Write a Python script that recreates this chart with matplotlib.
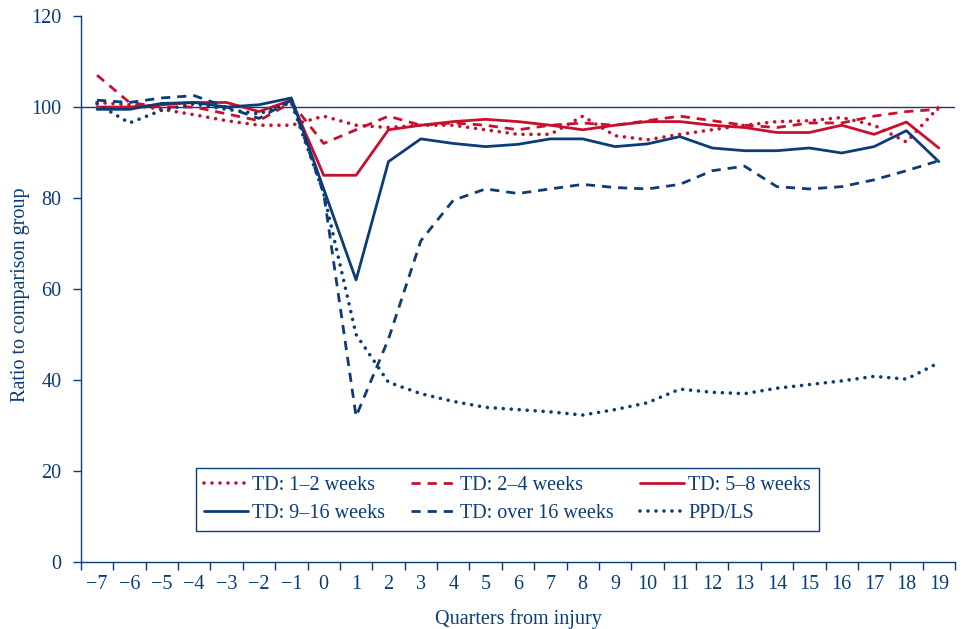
import matplotlib
matplotlib.use("Agg")
import matplotlib.pyplot as plt

# ---- data ----
quarters = list(range(-7, 20))
td_1_2 = [101, 100.5, 99.5, 98.3, 97, 96, 96, 98, 96, 95.5, 96, 96, 95, 94, 94, 98,
          93.7, 92.8, 94, 95, 96, 96.8, 97, 97.7, 96, 92.3, 100]
td_2_4 = [107, 101, 100, 100, 98.5, 97, 101, 92, 95, 98, 96, 96.5, 96, 95, 96, 96.5,
          96, 97, 98, 97, 96, 95.5, 96.5, 96.5, 98, 99, 99.5]
td_5_8 = [100, 100, 100.5, 101, 101, 99, 101.5, 85, 85, 95, 96, 96.8, 97.3, 96.8, 96,
          95, 96, 96.8, 96.8, 96, 95.5, 94.4, 94.4, 96, 94, 96.7, 91]
td_9_16 = [99.5, 99.5, 100.8, 101, 100, 100.5, 102, 82, 62, 88, 93, 92, 91.3, 91.8, 93,
           93, 91.3, 91.9, 93.5, 91, 90.4, 90.4, 91, 89.9, 91.3, 94.8, 88]
td_over16 = [101.5, 101, 102, 102.5, 100, 97.5, 101.5, 81, 32, 49, 70.6, 79.5, 82, 81,
             82, 83, 82.3, 82, 83, 86, 87, 82.5, 82, 82.5, 84, 86, 88.2]
ppd_ls = [100.7, 96.5, 99.3, 100.7, 99.5, 98.5, 101, 81, 50, 39.5, 37, 35.3, 34, 33.5,
          33, 32.3, 33.5, 35, 38, 37.3, 37, 38.2, 39, 39.8, 40.8, 40.2, 43.8]

labels = ["TD: 1\u20132 weeks", "TD: 2\u20134 weeks", "TD: 5\u20138 weeks",
          "TD: 9\u201316 weeks", "TD: over 16 weeks", "PPD/LS"]
yticks = [0, 20, 40, 60, 80, 100, 120]

RED = "#C8102E"
BLUE = "#0B3C78"
FS = 14.5

plt.rcParams['font.family'] = ['Liberation Serif', 'DejaVu Serif']
plt.rcParams['font.size'] = FS

fig = plt.figure(figsize=(9.63, 6.29), dpi=100)
ax = fig.add_axes([0.084, 0.1065, 0.9077, 0.868])

dot = (0, (0.01, 2.2))
dash = (0, (3.3, 2.5))

ax.axhline(100, color=BLUE, lw=1.0, zorder=1)

series = [
    (td_1_2, RED, 'dot'),
    (td_2_4, RED, 'dash'),
    (td_5_8, RED, 'solid'),
    (td_9_16, BLUE, 'solid'),
    (td_over16, BLUE, 'dash'),
    (ppd_ls, BLUE, 'dot'),
]
handles = []
for (vals, col, kind), lab in zip(series, labels):
    if kind == 'dot':
        ln, = ax.plot(quarters, vals, color=col, lw=2.6, linestyle=dot,
                      dash_capstyle='round', label=lab, zorder=3)
    elif kind == 'dash':
        ln, = ax.plot(quarters, vals, color=col, lw=2.0, linestyle=dash,
                      dash_capstyle='butt', label=lab, zorder=3)
    else:
        ln, = ax.plot(quarters, vals, color=col, lw=2.0, linestyle='-',
                      solid_capstyle='round', label=lab, zorder=3)
    handles.append(ln)

ax.set_xlim(-7.5, 19.5)
ax.set_ylim(0, 120)
ax.set_yticks(yticks)
ax.set_xticks(quarters)
ax.set_xticks([q - 0.5 for q in quarters] + [19.5], minor=True)

for s in ['top', 'right']:
    ax.spines[s].set_visible(False)
for s in ['left', 'bottom']:
    ax.spines[s].set_color(BLUE)
    ax.spines[s].set_linewidth(1.0)

ax.tick_params(axis='y', direction='out', length=6, width=1.0, color=BLUE,
               labelcolor=BLUE, pad=8, labelsize=FS)
ax.tick_params(axis='x', which='major', length=0, labelcolor=BLUE, pad=9, labelsize=FS)
ax.tick_params(axis='x', which='minor', direction='out', length=6, width=1.0, color=BLUE)

ax.set_xlabel("Quarters from injury", color=BLUE, fontsize=FS, labelpad=11)
ax.set_ylabel("Ratio to comparison group", color=BLUE, fontsize=FS)
ax.yaxis.set_label_coords(-0.058, 0.49)

order = [0, 3, 1, 4, 2, 5]
leg = ax.legend(handles=[handles[i] for i in order], ncol=3, loc='lower left',
                bbox_to_anchor=(0.1316, 0.0568), borderaxespad=0,
                frameon=True, fancybox=False,
                edgecolor=BLUE, framealpha=1, handlelength=2.2, handletextpad=0.2,
                columnspacing=1.3, labelspacing=0.45, borderpad=0.4, fontsize=FS)
leg.get_frame().set_linewidth(1.0)
for t in leg.get_texts():
    t.set_color(BLUE)

fig.savefig("out.png", dpi=100)
